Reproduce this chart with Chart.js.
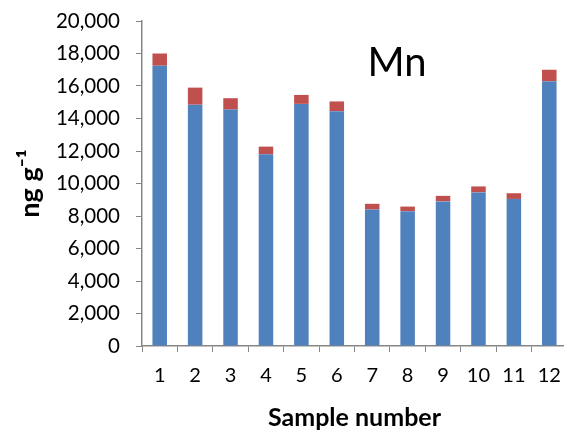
<!DOCTYPE html>
<html>
<head>
<meta charset="utf-8">
<script src="https://cdn.jsdelivr.net/npm/chart.js@4/dist/chart.umd.min.js"></script>
<style>
  html, body { margin: 0; padding: 0; background: #fff; overflow: hidden; }
  #wrap { position: relative; width: 567px; height: 433px; }
</style>
</head>
<body>
<div id="wrap"><canvas id="chart"></canvas></div>
<script>
const samples = ['1', '2', '3', '4', '5', '6', '7', '8', '9', '10', '11', '12']
// lower (blue) part and upper (red) part of each stacked bar, ng g-1
const baseValues = [17250, 14850, 14550, 11800, 14900, 14450, 8400, 8300, 8900, 9450, 9050, 16300]
const topValues = [750, 1050, 700, 470, 550, 600, 350, 280, 340, 370, 350, 700]
const yTicks = [0, 2000, 4000, 6000, 8000, 10000, 12000, 14000, 16000, 18000, 20000]

const axisGrey = '#868686'
const font = 'Lato'

// element label drawn inside the plot
const elementLabel = {
  id: 'elementLabel',
  afterDraw(chart) {
    const ctx = chart.ctx
    ctx.save()
    ctx.font = '40px ' + font
    ctx.fillStyle = '#000'
    ctx.textAlign = 'center'
    ctx.textBaseline = 'middle'
    ctx.fillText('Mn', 397, 63)
    ctx.restore()
  }
}

new Chart(document.getElementById('chart'), {
  type: 'bar',
  data: {
    labels: samples,
    datasets: [
      { data: baseValues, backgroundColor: '#4F81BD', barPercentage: 0.41, categoryPercentage: 1 },
      { data: topValues, backgroundColor: '#C0504D', barPercentage: 0.41, categoryPercentage: 1 }
    ]
  },
  options: {
    responsive: true,
    maintainAspectRatio: false,
    animation: false,
    layout: { padding: { top: 21, right: 0, bottom: 0, left: 0 } },
    plugins: { legend: { display: false }, tooltip: { enabled: false } },
    scales: {
      x: {
        stacked: true,
        grid: { drawOnChartArea: false, color: axisGrey, tickLength: 6, tickColor: axisGrey },
        border: { color: axisGrey, width: 1.5 },
        ticks: { color: '#000', font: { family: font, size: 20 }, padding: 12, maxRotation: 0 },
        title: { display: true, text: 'Sample number', color: '#000', font: { family: font, size: 25, weight: 'bold' }, padding: { top: 0, bottom: 0 } },
        afterFit(s) { s.height = 87; s.paddingLeft = 0; s.paddingRight = 0 }
      },
      y: {
        stacked: true,
        min: 0,
        max: 20000,
        afterBuildTicks(s) { s.ticks = yTicks.map(v => ({ value: v })) },
        grid: { drawOnChartArea: false, color: axisGrey, tickLength: 6, tickColor: axisGrey },
        border: { color: axisGrey, width: 1.5 },
        ticks: { color: '#000', font: { family: font, size: 20.5 }, padding: 16 },
        title: { display: true, text: 'ng g⁻¹', color: '#000', font: { family: font, size: 27, weight: 'bold' }, padding: { top: 14, bottom: 0 } },
        afterFit(s) { s.width = 142; s.paddingTop = 0; s.paddingBottom = 0 }
      }
    }
  },
  plugins: [elementLabel]
})
</script>
</body>
</html>
